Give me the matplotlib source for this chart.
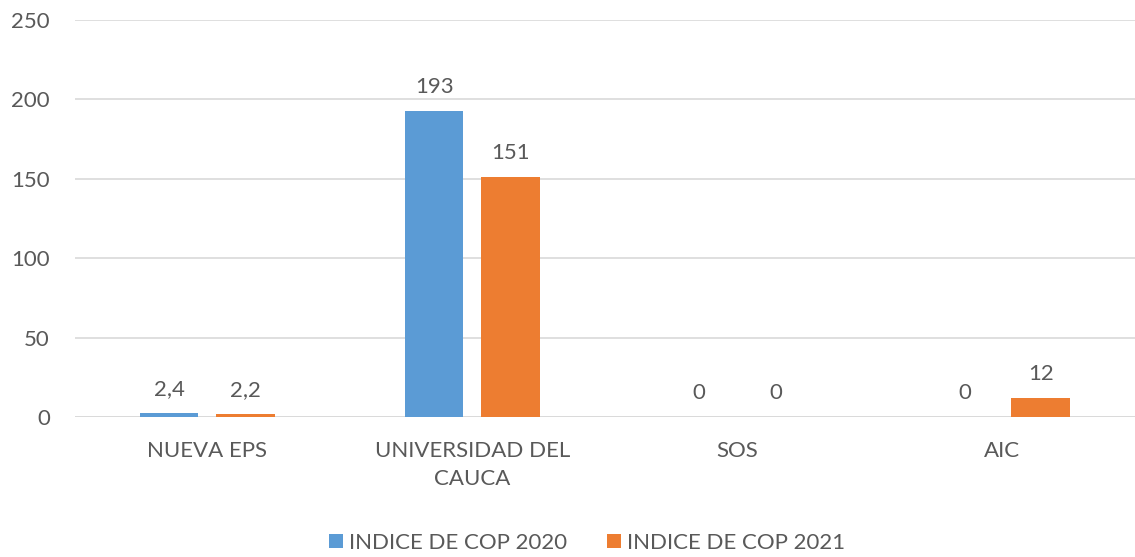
import matplotlib.pyplot as plt
import numpy as np

categories = ["NUEVA EPS", "UNIVERSIDAD DEL\nCAUCA", "SOS", "AIC"]
cop_2020 = [2.4, 193, 0, 0]
cop_2021 = [2.2, 151, 0, 12]
labels_2020 = ["2,4", "193", "0", "0"]
labels_2021 = ["2,2", "151", "0", "12"]
series_names = ["INDICE DE COP 2020", "INDICE DE COP 2021"]

plt.rcParams['font.family'] = ['Lato', 'DejaVu Sans']
txt = "#595959"

fig = plt.figure(figsize=(11.35, 5.57), dpi=100)
ax = fig.add_axes([0.066, 0.2513, 0.934, 0.7127])

x = np.arange(len(categories))
w = 0.22
off = 0.144
b1 = ax.bar(x - off, cop_2020, w, color="#5B9BD5", label=series_names[0], zorder=3)
b2 = ax.bar(x + off, cop_2021, w, color="#ED7D31", label=series_names[1], zorder=3)

for bars, labs in ((b1, labels_2020), (b2, labels_2021)):
    for b, lab in zip(bars, labs):
        ax.annotate(lab, (b.get_x() + b.get_width() / 2, b.get_height()),
                    xytext=(0, 10), textcoords="offset points",
                    ha="center", va="bottom", fontsize=16, color=txt)

ax.set_xlim(-0.5, 3.5)
ax.set_ylim(0, 250)
ax.set_yticks(range(0, 251, 50))
ax.set_xticks(x)
ax.set_xticklabels(categories, fontsize=16, color=txt, linespacing=1.5)
ax.tick_params(axis='y', labelsize=16, labelcolor=txt, length=0, pad=18)
ax.tick_params(axis='x', length=0, pad=17)
ax.grid(axis='y', color="#D9D9D9", linewidth=1.2, zorder=0)
for s in ax.spines.values():
    s.set_visible(False)
ax.axhline(0, color="#D9D9D9", linewidth=1.2, zorder=1)

fig.legend(handles=[b1, b2], loc="lower center", bbox_to_anchor=(0.5176, -0.028),
           ncol=2, frameon=False, fontsize=16, labelcolor=txt,
           handlelength=0.6, handleheight=0.6, handletextpad=0.3, columnspacing=1.8)

fig.savefig("out.png", dpi=100)
